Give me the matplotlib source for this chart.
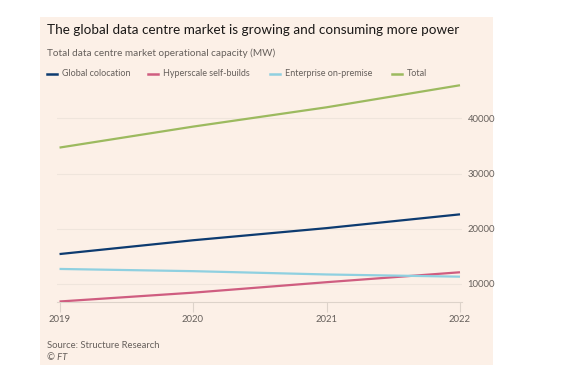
import matplotlib
matplotlib.use("Agg")
from matplotlib import pyplot as plt
from matplotlib.lines import Line2D
from matplotlib.patches import Rectangle

years = [2019, 2020, 2021, 2022]
colocation = [15400, 17900, 20100, 22600]
hyperscale = [6800, 8400, 10300, 12100]
enterprise = [12700, 12300, 11700, 11300]
total = [34700, 38500, 42000, 46000]

series_names = ["Global colocation", "Hyperscale self-builds", "Enterprise on-premise", "Total"]
series_colors = ["#0d3b70", "#cf5d80", "#8fd0e0", "#9cba5f"]
y_ticks = [10000, 20000, 30000, 40000]

title = "The global data centre market is growing and consuming more power"
subtitle = "Total data centre market operational capacity (MW)"
source = "Source: Structure Research"

bg = "#fcf0e7"
grey = "#66605c"
plt.rcParams['font.family'] = ['Lato', 'DejaVu Sans']

W, H = 570, 389
fig = plt.figure(figsize=(W / 100, H / 100), dpi=100)
fig.patch.set_facecolor("white")

# salmon panel
fig.add_artist(Rectangle((40 / W, 1 - 365 / H), 453 / W, 348 / H,
                         transform=fig.transFigure, facecolor=bg, edgecolor="none", zorder=0))

ax = fig.add_axes([57 / W, 1 - 301.5 / H, 405 / W, (301.5 - 80) / H])
ax.set_facecolor(bg)
ax.patch.set_alpha(0)

for vals, c in zip([colocation, hyperscale, enterprise, total], series_colors):
    ax.plot(years, vals, color=c, lw=1.6, solid_capstyle="butt", zorder=3)

ax.set_xlim(2018.981, 2022.015)
ax.set_ylim(6800, 46950)
ax.set_xticks(years)
ax.set_xticklabels([str(y) for y in years])
ax.set_yticks(y_ticks)
ax.set_yticklabels([str(v) for v in y_ticks])
ax.yaxis.tick_right()
ax.tick_params(axis="y", length=0, pad=4, labelsize=6.8, labelcolor=grey)
ax.tick_params(axis="x", length=7, width=0.8, color="#ddd3ca", pad=3, labelsize=6.8, labelcolor=grey)
ax.grid(axis="y", color="#efe5dc", lw=0.8)
for s in ["top", "right", "left"]:
    ax.spines[s].set_visible(False)
ax.spines["bottom"].set_color("#ddd3ca")
ax.spines["bottom"].set_linewidth(0.8)

fig.text(47 / W, 1 - 30 / H, title, fontsize=9.7, color="#1a1817", va="center", ha="left")
fig.text(47 / W, 1 - 53 / H, subtitle, fontsize=7.2, color=grey, va="center", ha="left")

# legend
leg_x = [47, 148, 270, 392]
for x0, name, c in zip(leg_x, series_names, series_colors):
    fig.add_artist(Line2D([x0 / W, (x0 + 10) / W], [1 - 74 / H] * 2, color=c, lw=1.8,
                          transform=fig.transFigure))
    fig.text((x0 + 15) / W, 1 - 74 / H, name, fontsize=6.5, color=grey, va="center", ha="left")

fig.text(47 / W, 1 - 345.5 / H, source, fontsize=6.8, color=grey, va="center", ha="left")
fig.text(47 / W, 1 - 357.5 / H, "© FT", fontsize=6.8, color=grey, va="center", ha="left", style="italic")

fig.savefig("out.png", dpi=100, facecolor="white")
